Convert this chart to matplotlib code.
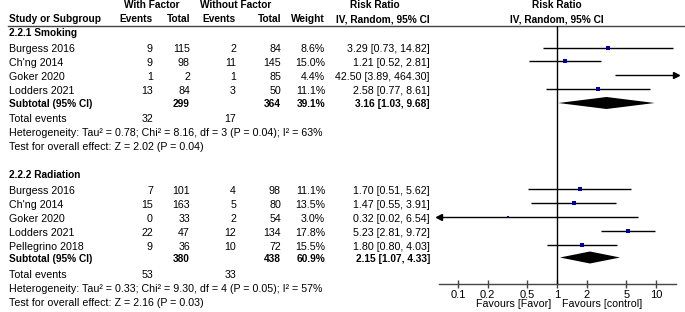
import numpy as np
import matplotlib
matplotlib.use("Agg")
import matplotlib.pyplot as plt

plt.rcParams['font.family'] = ['Liberation Sans', 'DejaVu Sans']

# ---- data ----------------------------------------------------------
groups = ["2.2.1 Smoking", "2.2.2 Radiation"]

smk_study = ["Burgess 2016", "Ch'ng 2014", "Goker 2020", "Lodders 2021"]
smk_ev_f = [9, 9, 1, 13]
smk_tot_f = [115, 98, 2, 84]
smk_ev_c = [2, 11, 1, 3]
smk_tot_c = [84, 145, 85, 50]
smk_weight = [8.6, 15.0, 4.4, 11.1]
smk_rr = [3.29, 1.21, 42.50, 2.58]
smk_lo = [0.73, 0.52, 3.89, 0.77]
smk_hi = [14.82, 2.81, 464.30, 8.61]
smk_sub = [299, 364, 39.1, 3.16, 1.03, 9.68]   # tot_f, tot_c, weight, rr, lo, hi
smk_events = [32, 17]
smk_het = "Heterogeneity: Tau\u00b2 = 0.78; Chi\u00b2 = 8.16, df = 3 (P = 0.04); I\u00b2 = 63%"
smk_test = "Test for overall effect: Z = 2.02 (P = 0.04)"

rad_study = ["Burgess 2016", "Ch'ng 2014", "Goker 2020", "Lodders 2021", "Pellegrino 2018"]
rad_ev_f = [7, 15, 0, 22, 9]
rad_tot_f = [101, 163, 33, 47, 36]
rad_ev_c = [4, 5, 2, 12, 10]
rad_tot_c = [98, 80, 54, 134, 72]
rad_weight = [11.1, 13.5, 3.0, 17.8, 15.5]
rad_rr = [1.70, 1.47, 0.32, 5.23, 1.80]
rad_lo = [0.51, 0.55, 0.02, 2.81, 0.80]
rad_hi = [5.62, 3.91, 6.54, 9.72, 4.03]
rad_sub = [380, 438, 60.9, 2.15, 1.07, 4.33]
rad_events = [53, 33]
rad_het = "Heterogeneity: Tau\u00b2 = 0.33; Chi\u00b2 = 9.30, df = 4 (P = 0.05); I\u00b2 = 57%"
rad_test = "Test for overall effect: Z = 2.16 (P = 0.03)"

ticks = [0.1, 0.2, 0.5, 1, 2, 5, 10]
tick_labels = ["0.1", "0.2", "0.5", "1", "2", "5", "10"]

# ---- layout (pixels, y from top) -------------------------------------
W, H = 685, 312
FS = 7.7
FSB = 7.3
X_NAME = 9
X_EVF, X_TOTF, X_EVC, X_TOTC, X_W, X_CI = 153, 190, 236, 281, 325, 430
AX_L, AX_R, AX_TOP, AX_BOT = 439, 676, 25.5, 284
XMIN, XMAX = 0.0643, 15.9

smk_y = dict(title=33, rows=[49, 62.5, 76.5, 90.5], sub=104, ev=118.5, het=133, test=147)
rad_y = dict(title=175, rows=[190.5, 204.5, 218.5, 232.5, 246.5], sub=258.5, ev=275, het=289, test=302.5)

fig = plt.figure(figsize=(W / 100, H / 100), dpi=100)
tax = fig.add_axes([0, 0, 1, 1])
tax.set_xlim(0, W)
tax.set_ylim(H, 0)
tax.axis('off')

fax = fig.add_axes([AX_L / W, (H - AX_BOT) / H, (AX_R - AX_L) / W, (AX_BOT - AX_TOP) / H])
fax.set_xscale('log')
fax.set_xlim(XMIN, XMAX)
fax.set_ylim(AX_BOT, AX_TOP)
fax.patch.set_alpha(0)
for s in ['top', 'left', 'right']:
    fax.spines[s].set_visible(False)
fax.spines['bottom'].set_color('#444444')
fax.spines['bottom'].set_linewidth(1)
fax.set_yticks([])
fax.minorticks_off()
fax.set_xticks(ticks)
fax.set_xticklabels(tick_labels)
fax.tick_params(axis='x', direction='inout', length=6, width=1, color='#444444',
                labelsize=FS + 0.3, pad=1)
fax.axvline(1, color='k', lw=1)


def txt(x, y, s, ha='left', bold=False):
    tax.text(x, y, s, ha=ha, va='center', fontsize=FSB if bold else FS,
             fontweight='bold' if bold else 'normal')


# header
txt(151.5, 5, "With Factor", ha='center', bold=True)
txt(235.5, 5, "Without Factor", ha='center', bold=True)
txt(374.5, 5, "Risk Ratio", ha='center', bold=True)
txt(557, 5, "Risk Ratio", ha='center', bold=True)
txt(X_NAME, 19.5, "Study or Subgroup", bold=True)
txt(X_EVF, 19.5, "Events", ha='right', bold=True)
txt(X_TOTF, 19.5, "Total", ha='right', bold=True)
txt(X_EVC, 19.5, "Events", ha='right', bold=True)
txt(X_TOTC, 19.5, "Total", ha='right', bold=True)
txt(X_W, 19.5, "Weight", ha='right', bold=True)
txt(X_CI, 19.5, "IV, Random, 95% CI", ha='right', bold=True)
txt(557, 19.5, "IV, Random, 95% CI", ha='center', bold=True)
tax.plot([8, 684], [25.5, 25.5], color='#444444', lw=1)


def draw_group(title, study, ev_f, tot_f, ev_c, tot_c, weight, rr, lo, hi,
               sub, events, het, test, yy):
    txt(X_NAME, yy['title'], title, bold=True)
    for i, name in enumerate(study):
        y = yy['rows'][i]
        txt(X_NAME, y, name)
        txt(X_EVF, y, str(ev_f[i]), ha='right')
        txt(X_TOTF, y, str(tot_f[i]), ha='right')
        txt(X_EVC, y, str(ev_c[i]), ha='right')
        txt(X_TOTC, y, str(tot_c[i]), ha='right')
        txt(X_W, y, f"{weight[i]:.1f}%", ha='right')
        txt(X_CI, y, f"{rr[i]:.2f} [{lo[i]:.2f}, {hi[i]:.2f}]", ha='right')
        yl = y - 1.5
        l = max(lo[i], XMIN)
        h = min(hi[i], XMAX)
        fax.plot([l, h], [yl, yl], color='k', lw=1, solid_capstyle='butt')
        if hi[i] > XMAX:
            fax.plot([XMAX], [yl], marker='>', ms=4, color='k', clip_on=False)
        if lo[i] < XMIN:
            fax.plot([XMIN], [yl], marker='<', ms=4, color='k', clip_on=False)
        if XMIN < rr[i] < XMAX:
            fax.plot([rr[i]], [yl], marker='s', ms=0.85 * np.sqrt(weight[i]),
                     color='#0000A0', mec='#0000A0', mew=0)
    ys = yy['sub']
    txt(X_NAME, ys, "Subtotal (95% CI)", bold=True)
    txt(X_TOTF, ys, str(sub[0]), ha='right', bold=True)
    txt(X_TOTC, ys, str(sub[1]), ha='right', bold=True)
    txt(X_W, ys, f"{sub[2]:.1f}%", ha='right', bold=True)
    txt(X_CI, ys, f"{sub[3]:.2f} [{sub[4]:.2f}, {sub[5]:.2f}]", ha='right', bold=True)
    yd = ys - 1
    fax.fill([sub[4], sub[3], sub[5], sub[3]], [yd, yd - 6, yd, yd + 6],
             color='k', lw=0)
    txt(X_NAME, yy['ev'], "Total events")
    txt(X_EVF, yy['ev'], str(events[0]), ha='right')
    txt(X_EVC, yy['ev'], str(events[1]), ha='right')
    txt(X_NAME, yy['het'], het)
    txt(X_NAME, yy['test'], test)


draw_group(groups[0], smk_study, smk_ev_f, smk_tot_f, smk_ev_c, smk_tot_c, smk_weight,
           smk_rr, smk_lo, smk_hi, smk_sub, smk_events, smk_het, smk_test, smk_y)
draw_group(groups[1], rad_study, rad_ev_f, rad_tot_f, rad_ev_c, rad_tot_c, rad_weight,
           rad_rr, rad_lo, rad_hi, rad_sub, rad_events, rad_het, rad_test, rad_y)

txt(551, 304, "Favours [Favor]", ha='right')
txt(562, 304, "Favours [control]")

fig.savefig("out.png", dpi=100)
